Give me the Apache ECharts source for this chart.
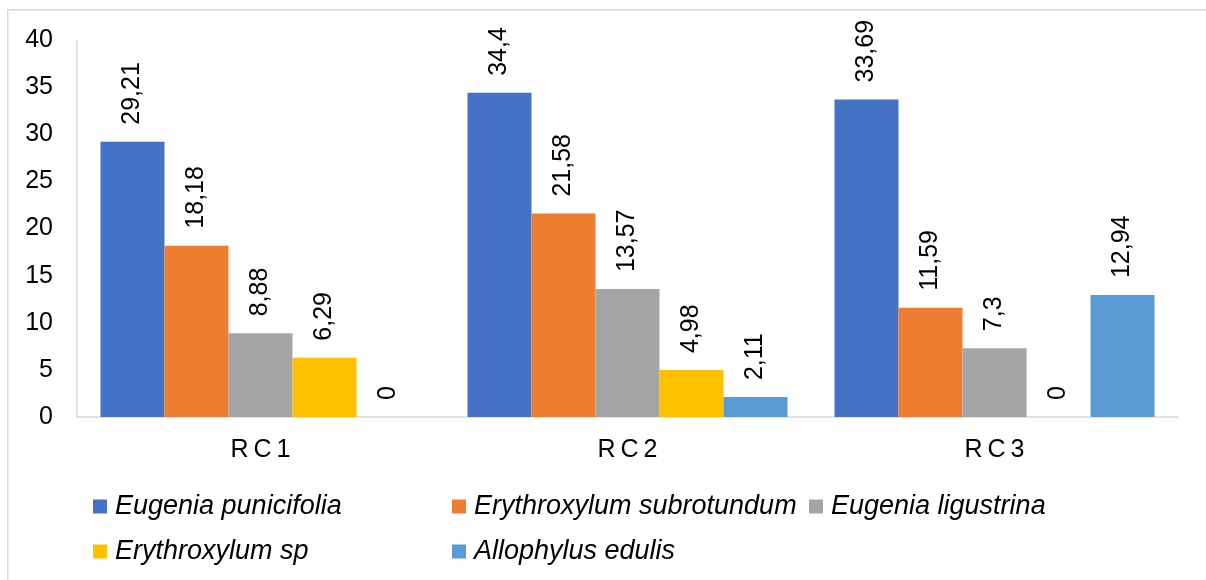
<!DOCTYPE html>
<html>
<head>
<meta charset="utf-8">
<script src="https://cdn.jsdelivr.net/npm/echarts@6/dist/echarts.min.js"></script>
<style>html,body{margin:0;padding:0;background:#fff}#c{width:1206px;height:580px}</style>
</head>
<body>
<div id="c"></div>
<script>
const categories = ['RC1', 'RC2', 'RC3'];
const seriesNames = ['Eugenia punicifolia', 'Erythroxylum subrotundum', 'Eugenia ligustrina', 'Erythroxylum sp', 'Allophylus edulis'];
const eugeniaPunicifolia = [29.21, 34.4, 33.69];
const erythroxylumSubrotundum = [18.18, 21.58, 11.59];
const eugeniaLigustrina = [8.88, 13.57, 7.3];
const erythroxylumSp = [6.29, 4.98, 0];
const allophylusEdulis = [0, 2.11, 12.94];
const yTicks = [0, 5, 10, 15, 20, 25, 30, 35, 40];

const values = [eugeniaPunicifolia, erythroxylumSubrotundum, eugeniaLigustrina, erythroxylumSp, allophylusEdulis];
const colors = ['#4472C4', '#ED7D31', '#A5A5A5', '#FFC000', '#5B9BD5'];
const font = 'Liberation Sans, Arial, sans-serif';
const fs = 25;

const legendPos = [
  {left: 88, top: 488}, {left: 447, top: 488}, {left: 804, top: 488},
  {left: 88, top: 533}, {left: 447, top: 533}
];

const chart = echarts.init(document.getElementById('c'));
chart.setOption({
  animation: false,
  textStyle: {fontFamily: font},
  graphic: [{
    type: 'rect', left: 7, top: 9, z: -10,
    shape: {width: 1210, height: 580},
    style: {fill: '#fff', stroke: '#D9D9D9', lineWidth: 1.5}
  }],
  grid: {left: 77, right: 28, top: 40, bottom: 163},
  legend: seriesNames.map((n, i) => ({
    data: [n],
    left: legendPos[i].left, top: legendPos[i].top,
    itemWidth: 14, itemHeight: 14, itemGap: 10,
    icon: 'rect',
    textStyle: {fontSize: 27, fontStyle: 'italic', color: '#000', fontFamily: font, padding: [0, 0, 0, 3]}
  })),
  xAxis: {
    type: 'category', data: categories,
    axisLine: {lineStyle: {color: '#D9D9D9', width: 1.5}},
    axisTick: {show: false},
    axisLabel: {fontSize: fs, color: '#000', margin: 21,
      formatter: v => v.split('').join('\u2009')}
  },
  yAxis: {
    type: 'value', min: yTicks[0], max: yTicks[yTicks.length - 1], interval: 5,
    splitLine: {show: false},
    axisLine: {show: true, lineStyle: {color: '#D9D9D9', width: 1.5}},
    axisTick: {show: false},
    axisLabel: {fontSize: fs, color: '#000', margin: 24}
  },
  series: seriesNames.map((n, i) => ({
    name: n, type: 'bar', data: values[i],
    barGap: '0%', barCategoryGap: '12.8%',
    itemStyle: {color: colors[i]},
    label: {
      show: true, position: 'top', rotate: 90, align: 'left', verticalAlign: 'middle',
      distance: 17, fontSize: fs, color: '#000', fontFamily: font,
      formatter: p => String(p.value).replace('.', ',')
    }
  }))
});
</script>
</body>
</html>
